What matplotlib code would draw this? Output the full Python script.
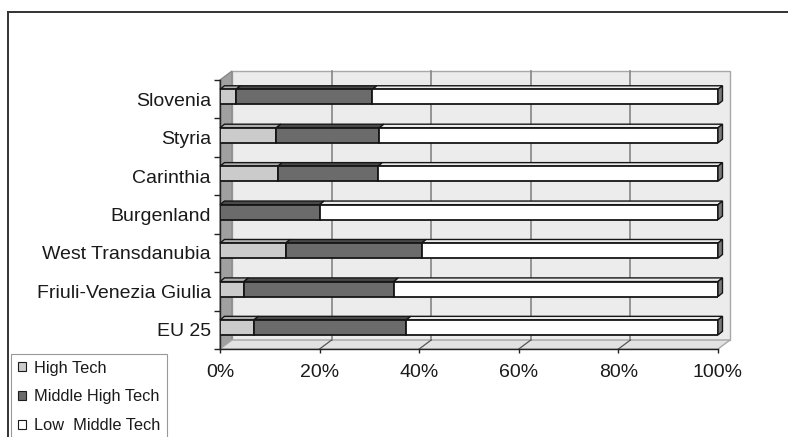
import matplotlib
matplotlib.use("Agg")
import matplotlib.pyplot as plt
from matplotlib.patches import Polygon, Rectangle
from matplotlib.lines import Line2D

plt.rcParams['font.family'] = ['Liberation Sans', 'DejaVu Sans']

# Regions listed bottom to top (EU 25 at the bottom of the chart)
regions = ["EU 25", "Friuli-Venezia Giulia", "West Transdanubia", "Burgenland",
           "Carinthia", "Styria", "Slovenia"]
high_tech = [6.8, 4.8, 13.2, 0.0, 11.6, 11.3, 3.2]
middle_high_tech = [30.6, 30.1, 27.3, 20.0, 20.1, 20.7, 27.4]
low_middle_tech = [100 - h - m for h, m in zip(high_tech, middle_high_tech)]

series_names = ["High Tech", "Middle High Tech", "Low  Middle Tech"]
front_colors = ["#cbcbcb", "#6b6b6b", "#ffffff"]
top_colors = ["#b0b0b0", "#4a4a4a", "#ececec"]
x_ticks = [0, 20, 40, 60, 80, 100]
x_tick_labels = ["0%", "20%", "40%", "60%", "80%", "100%"]

W, H = 788, 437
fig = plt.figure(figsize=(W / 100, H / 100), dpi=100)
ax = fig.add_axes([220 / W, (H - 349) / H, 498 / W, 269 / H])
ax.set_xlim(0, 100)
ax.set_ylim(0, len(regions))

# depth of the walls and of the bars, in data units
wdx, wdy = 2.41, 0.234
bdx, bdy = 0.9, 0.095
bar_h = 0.39
bar_shift = 0.06
edge = "#161616"
n = len(regions)

# back wall, left wall and floor
ax.add_patch(Rectangle((wdx, wdy), 100, n, facecolor="#ececec", edgecolor="#a8a8a8",
                       lw=1.0, clip_on=False, zorder=0))
ax.add_patch(Polygon([(0, 0), (wdx, wdy), (wdx, n + wdy), (0, n)], closed=True,
                     facecolor="#a0a0a0", edgecolor="#8a8a8a", lw=1.0, clip_on=False, zorder=1))
ax.add_patch(Polygon([(0, 0), (100, 0), (100 + wdx, wdy), (wdx, wdy)], closed=True,
                     facecolor="#e2e2e2", edgecolor="#a8a8a8", lw=1.0, clip_on=False, zorder=1))

# grid lines on the back wall and across the floor
for xv in x_ticks[1:-1]:
    ax.add_line(Line2D([xv + wdx, xv + wdx], [wdy, n + wdy], color="#858585", lw=1.2,
                       clip_on=False, zorder=2))
    ax.add_line(Line2D([xv, xv + wdx], [0, wdy], color="#555555", lw=0.9,
                       clip_on=False, zorder=2))

# stacked 3D bars
centers = [i + 0.5 + bar_shift for i in range(n)]
lefts = [0.0] * n
for values, fc, tc in zip([high_tech, middle_high_tech, low_middle_tech], front_colors, top_colors):
    ax.barh(centers, values, left=lefts, height=bar_h, color=fc, edgecolor=edge,
            linewidth=1.3, zorder=4)
    for yc, l, v in zip(centers, lefts, values):
        if v <= 0:
            continue
        top = yc + bar_h / 2
        ax.add_patch(Polygon([(l, top), (l + v, top), (l + v + bdx, top + bdy), (l + bdx, top + bdy)],
                             closed=True, facecolor=tc, edgecolor=edge, lw=1.0,
                             clip_on=False, zorder=3))
    lefts = [l + v for l, v in zip(lefts, values)]

# right end faces of the bars
for yc, total in zip(centers, lefts):
    bot, top = yc - bar_h / 2, yc + bar_h / 2
    ax.add_patch(Polygon([(total, bot), (total + bdx, bot + bdy), (total + bdx, top + bdy), (total, top)],
                         closed=True, facecolor="#7a7a7a", edgecolor=edge, lw=1.0,
                         clip_on=False, zorder=5))

# axes
for s in ["top", "right"]:
    ax.spines[s].set_visible(False)
for s in ["left", "bottom"]:
    ax.spines[s].set_color("#222222")
    ax.spines[s].set_linewidth(1.0)
ax.patch.set_visible(False)

ax.set_yticks([i + 0.5 for i in range(n)])
ax.set_yticklabels(regions, fontsize=14, color="#1a1a1a")
ax.set_yticks(range(n + 1), minor=True)
ax.tick_params(axis="y", which="major", length=0, pad=6.5)
ax.tick_params(axis="y", which="minor", length=4.3, width=1.0, color="#222222", direction="out")

ax.set_xticks(x_ticks)
ax.set_xticklabels(x_tick_labels, fontsize=14, color="#1a1a1a")
ax.tick_params(axis="x", which="major", length=3.0, width=1.0, color="#222222", pad=8)

# legend
handles = [Rectangle((0, 0), 1, 1, facecolor=c, edgecolor="#1c1c1c", lw=0.8) for c in front_colors]
leg = fig.legend(handles, series_names, loc="upper left",
                 bbox_to_anchor=(11 / W, 1 - 354 / H), bbox_transform=fig.transFigure,
                 fontsize=11.8, frameon=True, fancybox=False, borderaxespad=0,
                 handlelength=0.5, handleheight=0.5, handletextpad=0.5,
                 labelspacing=0.85, borderpad=0.4)
leg.get_frame().set_edgecolor("#808080")
leg.get_frame().set_linewidth(0.8)
for t in leg.get_texts():
    t.set_color("#1a1a1a")

# outer chart border (top and left edges)
fig.add_artist(Line2D([8 / W, 1], [1 - 12 / H, 1 - 12 / H], transform=fig.transFigure,
                      color="#333333", lw=1.4))
fig.add_artist(Line2D([8 / W, 8 / W], [0, 1 - 12 / H], transform=fig.transFigure,
                      color="#333333", lw=1.4))

fig.savefig("out.png", dpi=100, facecolor="white")
